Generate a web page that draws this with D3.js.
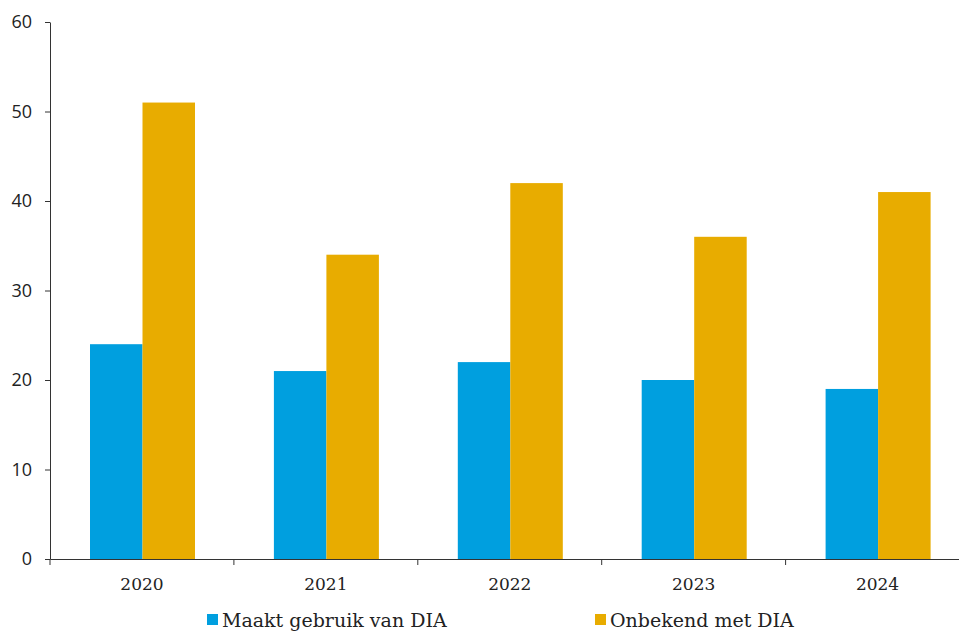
<!DOCTYPE html>
<html><head><meta charset="utf-8">
<script src="https://cdn.jsdelivr.net/npm/d3@7"></script>
<style>body{margin:0;background:#fff}svg{display:block}</style>
</head><body>
<svg id="c" width="959" height="632"></svg>
<script>
const categories = ["2020","2021","2022","2023","2024"];
const seriesNames = ["Maakt gebruik van DIA","Onbekend met DIA"];
const gebruik = [24,21,22,20,19];
const onbekend = [51,34,42,36,41];
const yTicks = [0,10,20,30,40,50,60];
const colors = ["#009fdf","#e8ac00"];

(function(){
const svg = d3.select("#c");
const mLeft = 50, mRight = 50 + 5*183.9, mTop = 22, mBottom = 559;
const x = d3.scaleBand().domain(categories).range([mLeft,mRight]).paddingInner(0).paddingOuter(0);
const y = d3.scaleLinear().domain([0,60]).range([mBottom,mTop]);
const inner = d3.scaleBand().domain([0,1]).range([40, 145]);

const data = categories.map((c,i)=>({c, v:[gebruik[i], onbekend[i]]}));
const g = svg.append("g");
g.selectAll("g.grp").data(data).join("g").attr("class","grp")
  .attr("transform", d=>`translate(${x(d.c)},0)`)
  .selectAll("rect").data(d=>d.v.map((v,k)=>({v,k}))).join("rect")
  .attr("x", d=>inner(d.k)).attr("width", inner.bandwidth())
  .attr("y", d=>y(d.v)).attr("height", d=>y(0)-y(d.v))
  .attr("fill", d=>colors[d.k]);

// y axis
const ya = svg.append("g").attr("transform",`translate(${mLeft},0)`)
  .call(d3.axisLeft(y).tickValues(yTicks).tickSize(5).tickPadding(13).tickSizeOuter(0));
ya.select(".domain").attr("stroke","#333");
ya.selectAll(".tick line").attr("stroke","#333");
ya.selectAll("text").attr("font-family","'Open Sans', sans-serif").attr("font-size",18).attr("fill","#222");

// x axis
const xa = svg.append("g").attr("transform",`translate(0,${mBottom})`)
  .call(d3.axisBottom(x).tickSize(0).tickPadding(0).tickSizeOuter(0));
xa.select(".domain").attr("stroke","#333");
xa.selectAll(".tick text").attr("font-family","'DejaVu Serif', serif").attr("font-size",17)
  .attr("fill","#222").attr("dy",null).attr("y",31);
const bounds = categories.map(c=>x(c)).concat([mRight]);
xa.selectAll("line.b").data(bounds).join("line").attr("class","b")
  .attr("x1",d=>d).attr("x2",d=>d).attr("y1",0).attr("y2",6).attr("stroke","#333");

// legend
const legX = [207, 595];
const lg = svg.append("g");
seriesNames.forEach((n,i)=>{
  lg.append("rect").attr("x",legX[i]).attr("y",614).attr("width",11).attr("height",11).attr("fill",colors[i]);
  lg.append("text").attr("x",legX[i]+15).attr("y",627).text(n)
    .attr("font-family","'DejaVu Serif', serif").attr("font-size",19).attr("fill","#222");
});
})();
</script>
</body></html>
